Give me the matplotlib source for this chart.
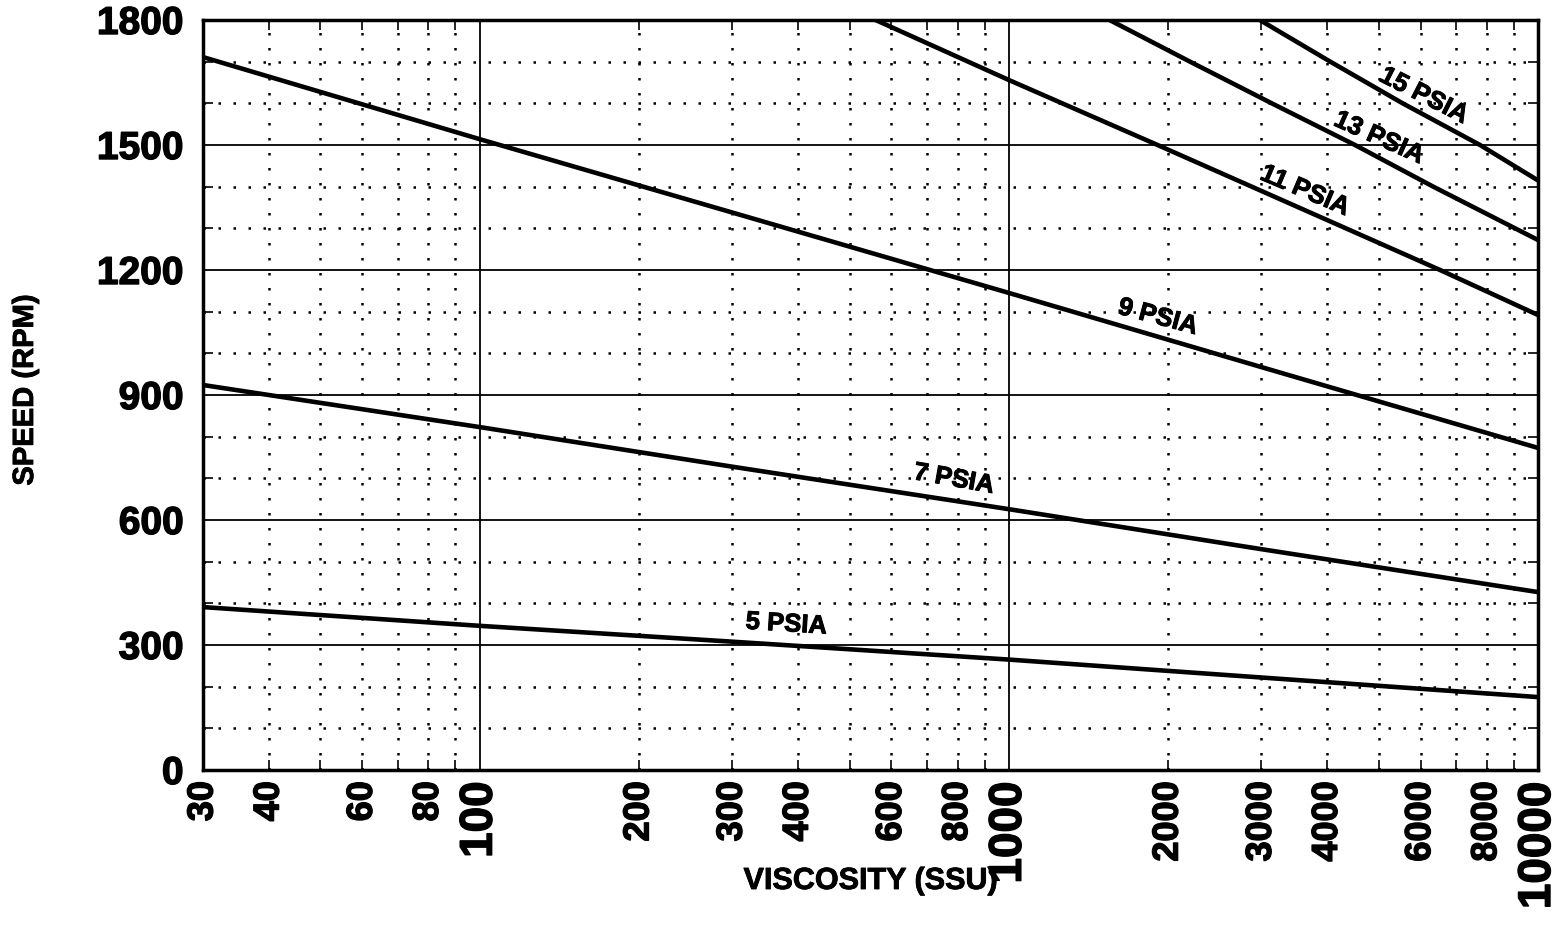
import matplotlib
matplotlib.use("Agg")
import matplotlib.pyplot as plt
import matplotlib.patheffects as pe
from matplotlib.ticker import FixedLocator, NullFormatter

plt.rcParams['font.family'] = ['Liberation Sans', 'DejaVu Sans']
plt.rcParams['font.weight'] = 'bold'

# Pump speed vs. fluid viscosity for several inlet pressures
visc_5 = [30, 100, 300, 1000, 3000, 10000]
rpm_5 = [391, 346, 308, 265, 222, 175]

visc_7 = [30, 100, 300, 1000, 3000, 10000]
rpm_7 = [924, 823, 728, 626, 530, 427]

visc_9 = [30, 100, 300, 1000, 3000, 10000]
rpm_9 = [1711, 1514, 1338, 1145, 967, 773]

visc_11 = [560, 1000, 1910, 6530, 10000]
rpm_11 = [1800, 1656, 1500, 1200, 1092]

visc_13 = [1550, 2200, 3140, 4510, 6340, 10000]
rpm_13 = [1800, 1700, 1600, 1500, 1400, 1272]

visc_15 = [2980, 4050, 5550, 7770, 10000]
rpm_15 = [1800, 1700, 1600, 1500, 1415]

curve_labels = ['5 PSIA', '7 PSIA', '9 PSIA', '11 PSIA', '13 PSIA', '15 PSIA']
label_visc = [380, 788, 1914, 3630, 5010, 6093]
label_rpm = [350, 698, 1087, 1390, 1517, 1618]
label_angle = [-3.5, -10, -15, -23, -24, -27]

x_major = [100, 1000, 10000]
x_minor = [30, 40, 50, 60, 70, 80, 90,
           200, 300, 400, 500, 600, 700, 800, 900,
           2000, 3000, 4000, 5000, 6000, 7000, 8000, 9000]
x_minor_labels = {30: '30', 40: '40', 60: '60', 80: '80',
                  200: '200', 300: '300', 400: '400', 600: '600', 800: '800',
                  2000: '2000', 3000: '3000', 4000: '4000', 6000: '6000', 8000: '8000'}
y_major = [0, 300, 600, 900, 1200, 1500, 1800]
y_minor = [100, 200, 400, 500, 700, 800, 1000, 1100, 1300, 1400, 1600, 1700]

heavy = [pe.withStroke(linewidth=1.0, foreground='black')]

fig = plt.figure(figsize=(15.64, 9.27), dpi=100)
ax = fig.add_axes([203 / 1564, 1 - 770 / 927, 1335 / 1564, 750 / 927])

ax.set_xscale('log')
ax.set_xlim(30, 10000)
ax.set_ylim(0, 1800)

# grid: solid major lines, dotted minor lines
for xv in x_major[:-1]:
    ax.axvline(xv, color='black', lw=1.3, zorder=1)
for yv in y_major[1:-1]:
    ax.axhline(yv, color='black', lw=1.3, zorder=1)
for xv in x_minor[1:]:
    ax.axvline(xv, color='black', lw=1.8, ls=(0, (1, 5)), zorder=1)
for yv in y_minor:
    ax.axhline(yv, color='black', lw=1.8, ls=(0, (1, 5)), zorder=1)

series = [(visc_5, rpm_5), (visc_7, rpm_7), (visc_9, rpm_9),
          (visc_11, rpm_11), (visc_13, rpm_13), (visc_15, rpm_15)]
for xs, ys in series:
    ax.plot(xs, ys, color='black', lw=3.3, solid_capstyle='butt', zorder=3)

for text, xv, yv, ang in zip(curve_labels, label_visc, label_rpm, label_angle):
    ax.text(xv, yv, text, rotation=ang, rotation_mode='anchor',
            ha='center', va='center', fontsize=18.5, fontweight='bold', zorder=4,
            path_effects=[pe.withStroke(linewidth=0.7, foreground='black')])

# ticks
ax.xaxis.set_major_locator(FixedLocator(x_major))
ax.xaxis.set_minor_locator(FixedLocator(x_minor))
ax.set_xticklabels([str(v) for v in x_major], rotation=90, fontsize=33,
                   fontweight='bold', va='top')
ax.xaxis.set_minor_formatter(NullFormatter())
for lab in ax.get_xticklabels():
    lab.set_path_effects(heavy)
for xv, lab in x_minor_labels.items():
    ax.annotate(lab, xy=(xv, 0), xycoords=('data', 'axes fraction'),
                xytext=(0, -8), textcoords='offset points',
                rotation=90, ha='center', va='top', fontsize=26, fontweight='bold',
                path_effects=heavy)

ax.yaxis.set_major_locator(FixedLocator(y_major))
ax.yaxis.set_minor_locator(FixedLocator(y_minor))
ax.set_yticklabels([str(v) for v in y_major], fontsize=28, fontweight='bold')
for lab in ax.get_yticklabels():
    lab.set_path_effects(heavy)

ax.tick_params(axis='both', which='both', direction='in', top=True, right=True,
               color='black', width=1.2)
ax.tick_params(axis='both', which='major', length=0)
ax.tick_params(axis='x', which='major', pad=8)
ax.tick_params(axis='y', which='major', pad=14)
ax.tick_params(axis='both', which='minor', length=7)

for sp in ax.spines.values():
    sp.set_linewidth(2.5)
    sp.set_color('black')

ax.set_xlabel('VISCOSITY (SSU)', fontsize=22, fontweight='bold',
              path_effects=[pe.withStroke(linewidth=0.6, foreground='black')])
ax.xaxis.set_label_coords(0.5, -0.128)
fig.text(25 / 1564, 1 - 390 / 927, 'SPEED (RPM)', rotation=90, ha='center',
         va='center', fontsize=21, fontweight='bold',
         path_effects=[pe.withStroke(linewidth=0.6, foreground='black')])

fig.savefig('out.png', dpi=100, facecolor='white')
